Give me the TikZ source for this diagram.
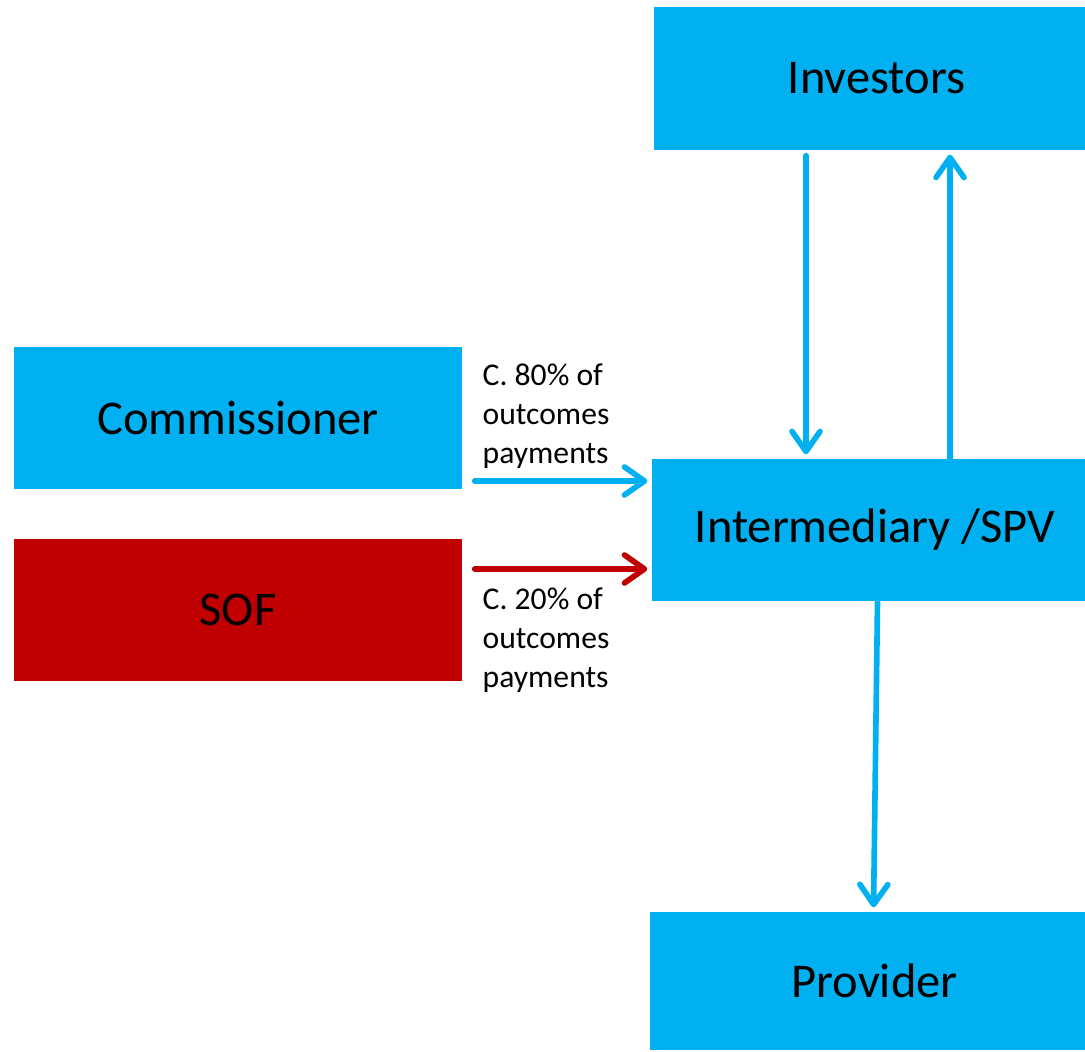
\documentclass[tikz,border=0pt]{standalone}
\usepackage{fontspec}
\setmainfont{Carlito}
\usetikzlibrary{arrows.meta}
\definecolor{boxblue}{HTML}{00B0F0}
\definecolor{boxred}{HTML}{C00000}
\begin{document}
\begin{tikzpicture}[
            party/.style={rectangle, fill=boxblue, inner sep=0pt, font=\fontsize{13.8}{16}\selectfont},
            flow/.style={draw=boxblue, line width=1.6pt, line cap=round,
                -{Straight Barb[length=2mm, width=2.8mm, round]}},
            note/.style={align=left, anchor=west, inner sep=0pt, font=\fontsize{9}{11.1}\selectfont}
            ]
            \useasboundingbox (0,0) rectangle (10.85,-10.52);

            \node[party, minimum width=4.31cm, minimum height=1.43cm] (investors) at (8.695,-0.785) {\hspace{1.4mm}Investors};
            \node[party, minimum width=4.48cm, minimum height=1.42cm] (commissioner) at (2.38,-4.18) {Commissioner};
            \node[party, fill=boxred, minimum width=4.48cm, minimum height=1.42cm] (sof) at (2.38,-6.10) {SOF};
            \node[party, minimum width=4.33cm, minimum height=1.42cm] (spv) at (8.685,-5.30) {\hspace{1.3mm}Intermediary /SPV};
            \node[party, minimum width=4.35cm, minimum height=1.38cm] (provider) at (8.675,-9.81) {\hspace{1.4mm}Provider};

            \node[note] (pay80) at (4.82,-4.16) {C. 80\% of\\outcomes\\payments};
            \node[note] (pay20) at (4.82,-6.40) {C. 20\% of\\outcomes\\payments};

            % investors and intermediary
            \draw[flow, shorten <=0.5mm, shorten >=0.4mm] (investors.south -| 8.06,0) -- (spv.north -| 8.06,0);
            \draw[flow, shorten >=0.4mm] (spv.north -| 9.50,0) -- (investors.south -| 9.50,0);
            \draw[flow, shorten >=0.4mm] ([xshift=0.9mm]spv.south) -- ([xshift=0.6mm]provider.north);

            % outcomes payments
            \draw[flow, shorten >=0.4mm] (commissioner.east |- 0,-4.81) ++(0.12,0) -- (spv.west |- 0,-4.81);
            \draw[flow, draw=boxred, shorten >=0.4mm] (sof.east |- 0,-5.69) ++(0.12,0) -- (spv.west |- 0,-5.69);
\end{tikzpicture}
\end{document}
